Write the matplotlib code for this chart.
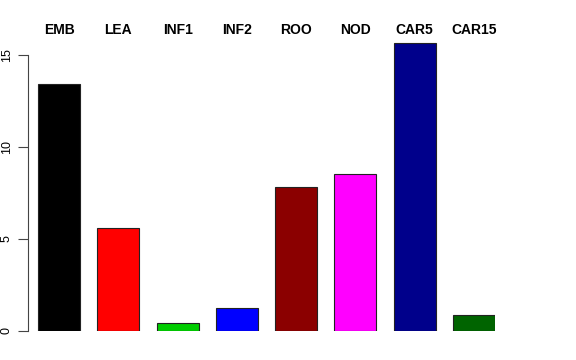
import matplotlib.pyplot as plt

labels = ["EMB", "LEA", "INF1", "INF2", "ROO", "NOD", "CAR5", "CAR15"]
values = [13.45, 5.62, 0.43, 1.25, 7.8, 8.52, 15.65, 0.88]
colors = ["#000000", "#FF0000", "#00CD00", "#0000FF", "#8B0000", "#FF00FF", "#00008B", "#006400"]
yticks = [0, 5, 10, 15]

plt.rcParams['font.family'] = ['Liberation Sans', 'DejaVu Sans']

fig = plt.figure(figsize=(5.76, 3.6), dpi=100)
# plot region placed in pixels like the R device
ymax = 16.0
px_per_unit = 18.4
left, right, bottom = 28, 495, 29
ax = fig.add_axes([left / 576, bottom / 360, (right - left) / 576, ymax * px_per_unit / 360])

# R barplot layout: width 1, space ~0.41
space = 0.41
xs = [space + (1 + space) * i + 0.5 for i in range(len(values))]
ax.bar(xs, values, width=1.0, color=colors, edgecolor="#222222", linewidth=0.8)
ax.set_xlim(space - 10 / 42, xs[-1] + 0.5)
ax.set_ylim(0, ymax)

for s in ["top", "right", "bottom"]:
    ax.spines[s].set_visible(False)
ax.spines["left"].set_bounds(0, 15)
ax.spines["left"].set_color("#444444")
ax.set_xticks([])
ax.set_yticks(yticks)
ax.set_yticklabels([str(t) for t in yticks], rotation=90, va="center", fontsize=9)
ax.tick_params(axis="y", length=7, color="#444444", pad=4)

for x, lab in zip(xs, labels):
    fig.text(ax.transData.transform((x, 0))[0] / 576, 1 - 29.5 / 360, lab,
             ha="center", va="center", fontsize=10, fontweight="bold")

fig.savefig("out.png", dpi=100)
